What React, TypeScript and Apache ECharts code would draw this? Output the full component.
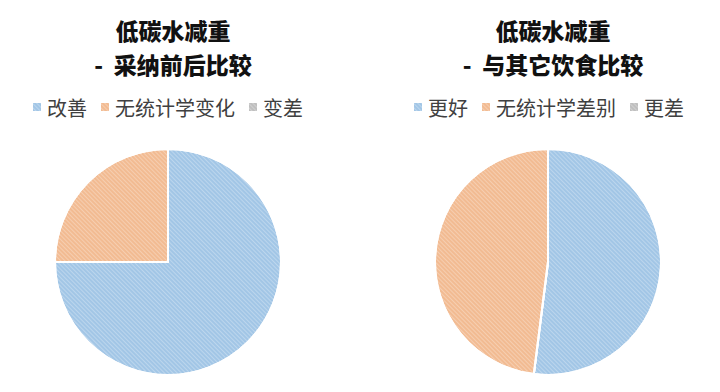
import React, { useEffect, useRef } from "react";
import * as echarts from "echarts";

const leftTitle = "低碳水减重\n-  采纳前后比较";
const rightTitle = "低碳水减重\n-  与其它饮食比较";
const leftCategories = ["改善", "无统计学变化", "变差"];
const leftValues = [75, 25, 0];
const rightCategories = ["更好", "无统计学差别", "更差"];
const rightValues = [52, 48, 0];
const colors = ["#a2c6e6", "#f2bb92", "#bfbfbf"];

export default function App() {
  const ref = useRef<HTMLDivElement>(null);
  useEffect(() => {
    if (!ref.current) return;
    const chart = echarts.init(ref.current, undefined, { renderer: "svg" });
    const decal = {
      symbol: "rect",
      symbolSize: 1,
      color: "rgba(255,255,255,0.28)",
      dashArrayX: [1, 0],
      dashArrayY: [1, 2],
      rotation: Math.PI / 4,
    };
    const mk = (cats: string[], vals: number[]) =>
      cats.map((c, i) => ({
        name: c,
        value: vals[i],
        itemStyle: { color: colors[i], decal },
      }));
    const titleStyle = {
      fontSize: 23,
      fontWeight: 900 as any,
      color: "#111",
      lineHeight: 34,
      fontFamily: "Noto Sans CJK SC",
    };
    const legendBase = {
      top: 92,
      orient: "horizontal" as const,
      itemWidth: 10,
      itemHeight: 10,
      itemGap: 12,
      icon: "rect",
      textStyle: { fontSize: 20, color: "#404040", fontFamily: "Noto Sans CJK SC" },
    };
    chart.setOption({
      animation: false,
      backgroundColor: "#fff",
      title: [
        { text: leftTitle, left: 168, top: 8, textAlign: "center", textStyle: titleStyle },
        { text: rightTitle, left: 548, top: 8, textAlign: "center", textStyle: titleStyle },
      ],
      legend: [
        { ...legendBase, left: 26, data: leftCategories },
        { ...legendBase, left: 407, data: rightCategories },
      ],
      series: [
        {
          type: "pie",
          center: [168, 262],
          radius: 113,
          startAngle: 90,
          clockwise: true,
          label: { show: false },
          labelLine: { show: false },
          itemStyle: { borderColor: "#fff", borderWidth: 2 },
          emphasis: { disabled: true },
          data: mk(leftCategories, leftValues),
        },
        {
          type: "pie",
          center: [548, 262],
          radius: 113,
          startAngle: 90,
          clockwise: true,
          label: { show: false },
          labelLine: { show: false },
          itemStyle: { borderColor: "#fff", borderWidth: 2 },
          emphasis: { disabled: true },
          data: mk(rightCategories, rightValues),
        },
      ],
    });
    return () => chart.dispose();
  }, []);
  return (
    <div
      ref={ref}
      style={{ position: "absolute", left: 0, top: 0, width: 720, height: 392 }}
    />
  );
}
